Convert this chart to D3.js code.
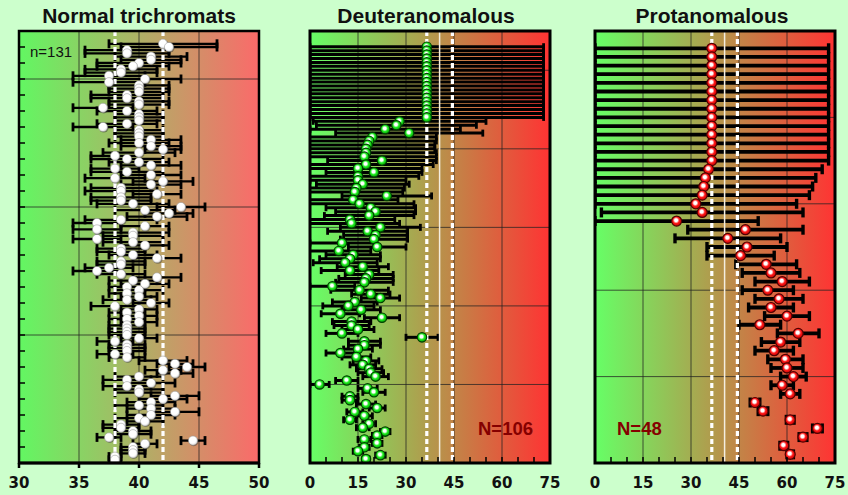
<!DOCTYPE html>
<html>
<head>
<meta charset="utf-8">
<script src="https://cdn.jsdelivr.net/npm/d3@7"></script>
<style>
  body { margin: 0; background: #ccffcc; }
  text { font-family: "Liberation Sans", Arial, sans-serif; }
</style>
</head>
<body>
<svg id="chart" width="848" height="495"></svg>
<script>

// one row per subject, top row first: mean and half-width of the bar
var ntMean = [42, 42.5, 39, 39, 41, 41, 40, 39.5, 38.5, 38.5,
  37.5, 40.5, 37.5, 40, 40, 40, 39, 39, 40, 40,
  37, 39, 40, 40, 40, 39, 37, 40, 40, 40,
  41, 40, 41, 42, 40, 38, 39, 40, 41, 38,
  39, 41, 38, 42, 41, 38.5, 38.5, 41.5, 38.5, 38.5,
  39.5, 43.5, 40.5, 42.5, 41.5, 38.5, 36.5, 40.5, 36.5, 39.5,
  39.5, 36.5, 39.5, 40.5, 38.5, 38.5, 39.5, 41.5, 38.5, 38.5,
  37.5, 36.5, 38.5, 41.5, 39.5, 40.5, 39, 40, 39, 40,
  39, 41, 38, 40, 39, 40, 39, 40, 39, 39,
  39, 39, 40, 38, 39, 39, 39, 38, 39, 42,
  43, 44, 42, 43, 40, 39, 41, 39, 40, 40,
  43, 42, 41, 40, 41, 43, 41, 40, 40.5, 38.5,
  38.5, 39.5, 39.5, 37.5, 44.5, 40.5, 39.5, 39.5, 39.5, 38,
  38];
var ntErr = [4.5, 4, 3.5, 3.5, 3, 2.5, 3.5, 3, 3, 3,
  3, 3, 3, 2.5, 2.5, 2.5, 3, 3, 2.5, 2.5,
  2.5, 2.5, 2, 2, 2, 2.5, 2.5, 2, 2, 2,
  2.5, 2.5, 2.5, 1.5, 3, 2, 3, 2.5, 2.5, 2,
  3, 2.5, 2.5, 2.5, 2.5, 2.5, 3, 2, 2.5, 2.5,
  3, 2, 2.5, 2, 2.5, 3, 2, 2, 2, 3,
  2.5, 2, 2.5, 2, 2, 2, 2, 2, 2, 2,
  2, 2, 2, 2, 2, 2, 1.5, 2, 1.5, 1.5,
  2, 1.5, 2, 1.5, 1.5, 1.5, 1.5, 1.5, 1.5, 1.5,
  1.5, 1.5, 1.5, 1.5, 1.5, 1.5, 1.5, 1.5, 1.5, 2,
  1.5, 1.5, 1.5, 1.5, 2, 2, 2, 2, 2, 2,
  2, 2, 2, 2, 2, 2, 2, 2, 1.5, 1.5,
  1.5, 1.5, 1.5, 1, 1, 1, 1, 1, 1, 0.5,
  0.5];

var deMean = [36.5, 36.5, 36.5, 36.5, 36.5, 36.5, 36.5, 36.5, 36.5, 36.5,
  36.5, 36.5, 36.5, 36.5, 36.5, 36.5, 36.5, 36.5, 36.5, 28,
  27, 23.5, 31, 19.5, 18.5, 18, 17.5, 17.5, 17, 22.5,
  17.5, 15, 20, 15, 15, 16.5, 14.5, 14, 24, 13.5,
  15.5, 19, 20.5, 18.5, 12.5, 13, 22, 18, 20.5, 20,
  10, 21, 9, 13.5, 12.5, 11, 16.5, 12.5, 18.5, 17.5,
  17, 7, 15.5, 19, 22, 14, 12, 16, 9.5, 22.5,
  13, 13, 15, 10, 35, 17, 17, 15, 9.5, 14.5,
  17.5, 16.5, 18.5, 19, 20.5, 11.5, 3, 18, 20, 12.5,
  12.5, 17.5, 21, 14, 17, 12.5, 18.5, 16.5, 23.5, 21,
  17, 21, 17, 15, 22, 17.5];
var deErr = [36.5, 36.5, 36.5, 36.5, 36.5, 36.5, 36.5, 36.5, 36.5, 36.5,
  36.5, 36.5, 36.5, 36.5, 36.5, 36.5, 36.5, 36.5, 36.5, 27,
  25, 23.5, 23, 20, 21, 21, 21.5, 22, 22.5, 17,
  21, 20, 15, 19, 15, 14.5, 15, 15, 14, 14,
  17, 14, 12.5, 14, 14, 15, 12.5, 12.5, 10, 10.5,
  10, 9, 10, 8.5, 9.5, 10, 8, 9, 7.5, 8.5,
  9, 7, 9, 6, 6, 7, 8, 6, 6, 5.5,
  6, 5.5, 5, 5, 5, 5, 5, 4.5, 4.5, 4.5,
  4, 4, 4, 4, 4, 3.5, 3, 3, 3.5, 2.5,
  2.5, 3, 2.5, 2.5, 2.5, 2, 2, 2, 1.5, 1.5,
  2, 1.5, 1.5, 1.5, 1.5, 1];

var prMean = [36.5, 36.5, 36.5, 36.5, 36.5, 36.5, 36.5, 36.5, 36.5, 36.5,
  36.5, 36.5, 36.5, 36.5, 35.5, 34.5, 34, 33.5, 31.5, 33.5,
  25.5, 47, 41.5, 47.5, 45.5, 53.5, 55, 58.5, 54, 57.5,
  55, 60, 51.5, 63.5, 58, 56, 59.5, 60, 62, 58.5,
  61, 50, 52.5, 61, 69.5, 65, 59, 61];
var prErr = [36.5, 36.5, 36.5, 36.5, 36.5, 36.5, 36.5, 36.5, 36.5, 36.5,
  36.5, 36.5, 36.5, 36.5, 35.5, 34.5, 34, 33.5, 31.5, 31.5,
  25.5, 18, 16.5, 12.5, 10.5, 9.5, 9, 8.5, 8, 7.5,
  7, 7, 6.5, 6.5, 6, 6, 5.5, 5, 4, 3.5,
  3, 1.5, 1.5, 1.2, 1.5, 1.2, 1.2, 1];

var titles = ["Normal trichromats", "Deuteranomalous", "Protanomalous"];
var notes = ["n=131", "N=106", "N=48"];
var ntTicks = [30, 35, 40, 45, 50];
var anTicks = [0, 15, 30, 45, 60, 75];
var ntLimits = [38, 42];
var anLimits = [36.5, 44.5];
var anMid = [40.5];

var plotTop = 31, plotBottom = 463;

var panels = [
  {title: titles[0], note: notes[0], mean: ntMean, err: ntErr, left: 19, right: 259,
   xDomain: [30, 50], ticks: ntTicks, yMax: 135, yGrid: [40, 80, 120],
   dashed: ntLimits, solid: [], dot: "nt", grad: ["#62f762", "#fb6a6a"],
   barW: 2.3, capH: 9, capW: 2.8, r: 4.6, frameW: 2.5, titleX: 139},
  {title: titles[1], note: notes[1], mean: deMean, err: deErr, left: 310, right: 550,
   xDomain: [0, 75], ticks: anTicks, yMax: 110, yGrid: [20, 40, 60, 80, 100],
   dashed: anLimits, solid: anMid, dot: "de", grad: ["#66ff66", "#ff3333"],
   barW: 3, capH: 7, capW: 2.8, r: 4.7, frameW: 3, titleX: 426},
  {title: titles[2], note: notes[2], mean: prMean, err: prErr, left: 595, right: 835,
   xDomain: [0, 75], ticks: anTicks, yMax: 50, yGrid: [10, 20, 30, 40],
   dashed: anLimits, solid: anMid, dot: "pr", grad: ["#66ff66", "#ff3333"],
   barW: 3.8, capH: 10, capW: 3.4, r: 5, frameW: 3, titleX: 712}
];

var svg = d3.select("#chart");
var defs = svg.append("defs");

// shaded balls
function ball(id, c0, c1, c2, mid) {
  var rg = defs.append("radialGradient").attr("id", id)
    .attr("cx", "45%").attr("cy", "42%").attr("r", "58%");
  rg.append("stop").attr("offset", "0%").attr("stop-color", c0);
  rg.append("stop").attr("offset", "25%").attr("stop-color", c0);
  rg.append("stop").attr("offset", mid).attr("stop-color", c1);
  rg.append("stop").attr("offset", "100%").attr("stop-color", c2);
}
ball("ball-nt", "#ffffff", "#ffffff", "#d8d8d8", "60%");
ball("ball-de", "#ffffff", "#22ee22", "#009900", "55%");
ball("ball-pr", "#ffffff", "#ff1a1a", "#c80000", "55%");
var dotStroke = {nt: "#999", de: "#004000", pr: "#500000"};

panels.forEach(function(p, k) {
  var x = d3.scaleLinear().domain(p.xDomain).range([p.left, p.right]);
  var y = d3.scaleLinear().domain([0, p.yMax]).range([plotBottom, plotTop]);
  var n = p.mean.length;
  var rows = p.mean.map(function(m, i) { return {m: m, e: p.err[i], r: n - i}; });
  var g = svg.append("g");

  var lg = defs.append("linearGradient").attr("id", "bg" + k)
    .attr("x1", 0).attr("x2", 1).attr("y1", 0).attr("y2", 0);
  lg.append("stop").attr("offset", "0%").attr("stop-color", p.grad[0]);
  lg.append("stop").attr("offset", "100%").attr("stop-color", p.grad[1]);

  defs.append("clipPath").attr("id", "clip" + k)
    .append("rect")
      .attr("x", p.left).attr("y", plotTop)
      .attr("width", p.right - p.left).attr("height", plotBottom - plotTop);

  g.append("rect")
    .attr("x", p.left).attr("y", plotTop)
    .attr("width", p.right - p.left).attr("height", plotBottom - plotTop)
    .attr("fill", "url(#bg" + k + ")");

  // grid
  g.selectAll(".vgrid").data(p.ticks.slice(1, -1)).enter().append("line")
    .attr("x1", x).attr("x2", x)
    .attr("y1", plotTop).attr("y2", plotBottom)
    .attr("stroke", "#222").attr("stroke-opacity", 0.75).attr("stroke-width", 1);
  g.selectAll(".hgrid").data(p.yGrid).enter().append("line")
    .attr("x1", p.left).attr("x2", p.right)
    .attr("y1", y).attr("y2", y)
    .attr("stroke", "#222").attr("stroke-opacity", 0.75).attr("stroke-width", 1);

  var inner = g.append("g").attr("clip-path", "url(#clip" + k + ")");

  // error bars
  inner.selectAll(".bar").data(rows).enter().append("line")
    .attr("x1", function(d) { return x(d.m - d.e); })
    .attr("x2", function(d) { return x(d.m + d.e); })
    .attr("y1", function(d) { return y(d.r); })
    .attr("y2", function(d) { return y(d.r); })
    .attr("stroke", "#000").attr("stroke-width", p.barW);
  [-1, 1].forEach(function(s) {
    inner.selectAll(".cap" + s).data(rows).enter().append("line")
      .attr("x1", function(d) { return x(d.m + s * d.e); })
      .attr("x2", function(d) { return x(d.m + s * d.e); })
      .attr("y1", function(d) { return y(d.r) - p.capH / 2; })
      .attr("y2", function(d) { return y(d.r) + p.capH / 2; })
      .attr("stroke", "#000").attr("stroke-width", p.capW);
  });

  // limit lines
  inner.selectAll(".dash").data(p.dashed).enter().append("line")
    .attr("x1", x).attr("x2", x)
    .attr("y1", plotTop).attr("y2", plotBottom)
    .attr("stroke", "#fff").attr("stroke-width", 3.2)
    .attr("stroke-dasharray", "5,3");
  inner.selectAll(".mid").data(p.solid).enter().append("line")
    .attr("x1", x).attr("x2", x)
    .attr("y1", plotTop).attr("y2", plotBottom)
    .attr("stroke", "#f4eee0").attr("stroke-width", 1.5);

  // points
  if (p.dot == "nt") {
    inner.selectAll(".shadow").data(rows).enter().append("circle")
      .attr("cx", function(d) { return x(d.m) + 0.8; })
      .attr("cy", function(d) { return y(d.r) + 0.8; })
      .attr("r", 4.8).attr("fill", "#333").attr("fill-opacity", 0.45);
  }
  inner.selectAll(".dot").data(rows).enter().append("circle")
    .attr("cx", function(d) { return x(d.m); })
    .attr("cy", function(d) { return y(d.r); })
    .attr("r", p.r)
    .attr("fill", "url(#ball-" + p.dot + ")")
    .attr("stroke", dotStroke[p.dot])
    .attr("stroke-width", p.dot == "nt" ? 0.5 : 1.2);

  // frame
  g.append("rect")
    .attr("x", p.left).attr("y", plotTop)
    .attr("width", p.right - p.left).attr("height", plotBottom - plotTop)
    .attr("fill", "none").attr("stroke", "#000").attr("stroke-width", p.frameW);

  if (p.dot == "nt") {
    // y ticks every 5 subjects, inside
    g.selectAll(".yt").data(d3.range(5, p.yMax, 5)).enter().append("line")
      .attr("x1", p.left).attr("x2", p.left + 6)
      .attr("y1", y).attr("y2", y)
      .attr("stroke", "#000").attr("stroke-width", 1.5);
    g.selectAll(".xt").data(p.ticks).enter().append("line")
      .attr("x1", x).attr("x2", x)
      .attr("y1", plotBottom).attr("y2", plotBottom + 5)
      .attr("stroke", "#000").attr("stroke-width", 2.5);
    g.append("line")
      .attr("x1", p.left - 1).attr("x2", p.right + 1)
      .attr("y1", plotBottom).attr("y2", plotBottom)
      .attr("stroke", "#000").attr("stroke-width", 3);
    g.append("text").attr("x", p.left + 11).attr("y", 57)
      .attr("font-size", 15).attr("fill", "#111").text(p.note);
  } else {
    g.selectAll(".xm").data(d3.range(p.xDomain[0] + 5, p.xDomain[1], 5)).enter().append("line")
      .attr("x1", x).attr("x2", x)
      .attr("y1", plotBottom).attr("y2", plotBottom - 6)
      .attr("stroke", "#000").attr("stroke-width", 1.5);
    g.append("text")
      .attr("x", p.dot == "de" ? 478 : 617).attr("y", 435)
      .attr("font-size", 18.5).attr("font-weight", "bold")
      .attr("fill", "#850000").text(p.note);
  }

  g.selectAll(".xl").data(p.ticks).enter().append("text")
    .attr("x", x).attr("y", 488)
    .attr("text-anchor", "middle")
    .style("font-family", "'DejaVu Sans', Verdana, sans-serif")
    .attr("font-size", 15).attr("font-weight", "bold").attr("fill", "#111")
    .text(function(d) { return d; });

  g.append("text")
    .attr("x", p.titleX).attr("y", 23)
    .attr("text-anchor", "middle")
    .attr("font-size", 21).attr("font-weight", "bold").attr("fill", "#111")
    .text(p.title);
});
</script>
</body>
</html>
